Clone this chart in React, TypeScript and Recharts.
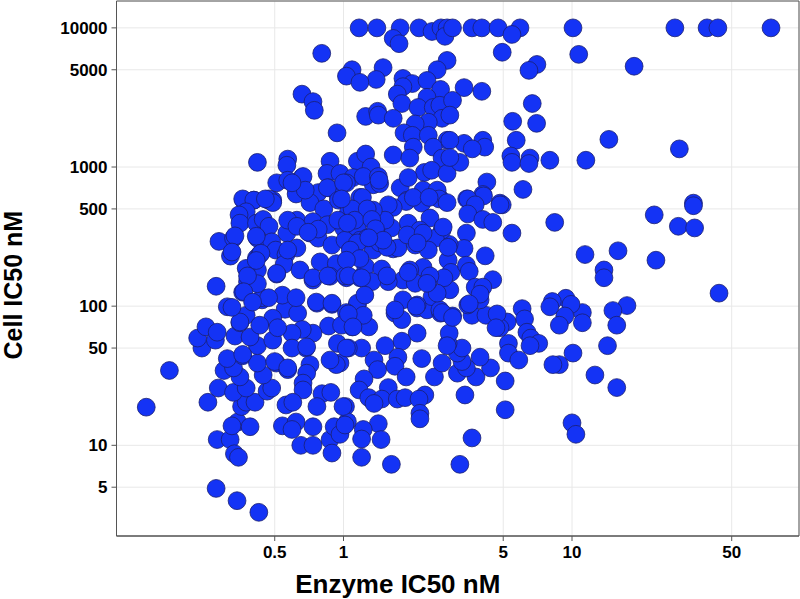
import React from "react";
import { ScatterChart, Scatter, XAxis, YAxis, CartesianGrid, ReferenceArea } from "recharts";

type P = [number, number];

const plateau: P[] = [[1.17,10000],[1.4,10000],[1.77,10000],[2.14,10000],[2.44,9420],[2.67,10000],[2.84,10000],[2.78,8700],[3,10000],[3.65,10000],[4.03,10000],[4.75,10000],[5.92,10000],[5.46,8970],[10.1,10000],[28.2,10000],[39,10000],[43.5,10000],[74.3,10000],[1.65,8400],[1.75,7700]];

const upper: P[] = [[0.803,6560],[4.95,6680],[10.7,6450],[18.7,5300],[7.02,5460],[6.48,4950],[2.84,5836],[2.57,5000],[1.49,5180],[1.39,4260],[1.09,5000],[1.03,4500],[1.18,4060],[1.82,4330],[2,3980],[1.82,3780],[1.72,3340],[2.32,4190],[2.66,3610],[2.32,3170],[1.8,2860],[2.12,2680],[2.47,2680],[2.64,2780],[2.7,2240],[2.35,2100],[0.658,3340],[0.735,2950],[0.745,2555],[1.25,2310],[1.41,2515],[1.42,2360],[1.65,2240],[0.937,1760],[2.06,2040],[1.84,1760],[2,1690],[2.35,1690],[2.84,1557],[2.02,1390],[2.47,1390],[1.65,1220],[1.95,1160],[2.7,1160],[2.26,915],[2.43,948],[2.84,900],[3.37,3720],[4.03,3500],[3,3014],[2.92,2360],[6.7,2860],[5.5,2130],[7,2060],[5.7,1557],[14.5,1580],[29.5,1350],[3.37,1480],[4.07,1557],[4.15,1390],[3.66,1350],[2.92,1557],[5.4,1200],[5.46,1080],[6.55,1160],[6.48,1060],[8,1119],[11.5,1119],[3.23,1080],[2.92,1170]];

const shoulder: P[] = [[0.42,1080],[0.57,1140],[0.565,1030],[0.873,1100],[1.15,1100],[1.25,1240],[1.32,1000],[0.847,900],[0.965,900],[1.1,840],[0.51,770],[0.658,840],[0.57,804],[0.625,655],[0.68,665],[0.775,655],[0.858,710],[1.03,770],[1.35,745],[1.44,760],[1.22,855],[1.42,855],[1.77,710],[1.92,840],[1.18,605],[0.365,578],[0.405,578],[0.47,578],[0.49,578],[0.95,605],[1.9,578],[2.23,650],[2.52,620],[2.62,605],[4.24,780],[6.1,690],[4.07,635],[3.46,590],[4.84,550],[34,550]];

const farRight: P[] = [[4.95,535],[8.4,400],[5.46,335],[22.9,453],[34,527],[29.2,375],[34.4,365],[23.3,214],[15.9,250],[11.4,235],[13.8,182],[13.8,160],[44,124],[17.4,101],[15.1,93],[11.1,90],[15.7,73],[11.1,76],[9.4,114],[9.9,103],[9.3,85],[8.8,73],[8.2,108],[8,99],[14.3,52],[10.1,46],[8.8,38],[8.25,38],[12.6,32],[15.7,26],[10,14.5],[10.4,12],[6.05,96],[6.2,81],[5.2,77],[6.35,65],[6.6,59],[7.15,54],[6.55,52],[5.27,54],[5.27,46],[5.85,41],[5.1,29],[5.1,18],[4.84,70]];

const lowerMiddle: P[] = [[3.65,11.3],[3.23,7.3],[3.4,23],[3.8,31],[4.4,36],[3.96,43],[2.5,31],[3.15,33],[3.45,36],[2.7,39],[3.3,40],[3.15,46],[3.3,50],[2.87,54],[2.9,64],[2.2,42],[2.1,64],[1.8,56],[1.52,52],[1.36,41],[1.41,35],[1.73,43],[1.68,37],[1.88,31],[1.57,26],[1.23,30],[1.17,25],[1.29,22],[1.47,21.5],[1.36,20],[1.72,21.5],[1.86,22],[2.27,23],[2.14,21.5],[2.16,17],[2.16,15.5],[1.42,14.3],[1.22,13],[1.2,11.1],[1.46,11],[1.2,8.2],[1.62,7.3],[1.02,19],[1.04,14.8],[0.965,12.5],[1.68,89],[1.8,80],[2.1,97],[2.32,94],[2.66,89],[3,85],[3.65,86],[4.2,86],[4.7,88],[4.65,70],[3.5,102],[3.96,111],[1.15,102],[1.09,71],[1.29,71],[1.2,50],[1.05,50],[0.965,39]];

const lowerLeft: P[] = [[0.173,34.5],[0.137,18.8],[0.277,4.9],[0.342,4],[0.426,3.3],[0.28,11],[0.319,11],[0.333,8.7],[0.347,8.2],[0.344,14.7],[0.39,13.6],[0.325,13.8],[0.255,20.4],[0.283,25.8],[0.358,19],[0.375,20.4],[0.41,20.4],[0.33,24],[0.375,25.8],[0.463,24.5],[0.485,25.8],[0.445,32],[0.352,31],[0.3,34.5],[0.33,36],[0.362,44],[0.31,42],[0.42,39],[0.508,39],[0.57,35],[0.42,52],[0.49,57],[0.335,61],[0.39,60],[0.352,76],[0.24,50],[0.23,59],[0.25,71],[0.275,57],[0.28,65],[0.31,99],[0.375,86],[0.44,111],[0.555,95],[0.63,89],[0.765,105],[0.89,103],[0.86,72],[0.735,64],[0.66,68],[0.595,64],[0.685,50],[0.595,50],[0.94,54],[1.03,50],[0.713,38],[0.69,33],[0.93,38],[0.873,41],[0.665,28],[0.665,25],[0.805,23.5],[0.88,24],[0.56,19.5],[0.6,20.4],[0.765,19],[0.995,19],[0.54,13.8],[0.62,14.7],[0.595,13],[0.735,13.6],[0.65,10],[0.735,10],[0.873,11],[0.91,13.6],[0.965,12],[0.89,8.8],[1.015,14]];

const denseLeft: P[] = [[0.277,139],[0.285,292],[0.32,229],[0.33,308],[0.362,590],[0.405,578],[0.375,477],[0.349,453],[0.352,395],[0.472,590],[0.49,555],[0.416,395],[0.445,420],[0.472,375],[0.42,308],[0.565,335],[0.485,290],[0.505,253],[0.416,222],[0.43,235],[0.625,262],[0.56,235],[0.55,200],[0.42,182],[0.375,187],[0.51,170],[0.645,182],[0.38,150],[0.362,126],[0.44,115],[0.42,145],[0.54,120],[0.62,115],[0.735,154],[0.79,208],[0.93,202],[0.873,164],[1.03,160],[0.76,107],[0.89,105],[0.665,855],[0.85,710],[1,770],[0.62,640],[0.713,555],[0.82,500],[0.95,578],[0.625,415],[0.57,415],[0.735,405],[0.85,385],[0.625,375],[0.713,335],[0.775,308],[0.89,275],[1,365],[1.07,298],[1.05,470]];

const denseRight: P[] = [[4.1,620],[3.5,590],[3.77,535],[4.84,535],[3.5,460],[4.07,420],[4.5,400],[4.17,230],[3.45,335],[3.37,260],[2.87,214],[2.9,278],[2.95,175],[3.45,197],[3.55,178],[4.5,155],[3.77,137],[4.07,137],[3.96,122],[3.55,104],[2.92,131],[2.75,160],[2.44,117],[2.64,94],[2.57,124],[2.35,150],[2.23,190],[1.95,182],[1.82,154],[2.06,146],[1.82,111],[2.1,102],[1.68,94],[2.23,682],[2.57,682],[2.62,590],[2.84,555],[1.88,565],[2.2,550],[1.65,513],[1.57,535],[2.02,605],[2.39,430],[1.92,395],[2.16,352],[2.7,352],[2.23,290],[2.27,278],[2.06,275],[2.52,308],[2.35,253],[1.62,365],[1.39,365],[1.52,415],[1.15,358],[1.18,298],[1.35,253],[1.65,258],[1.73,262],[1.44,285],[1.27,310],[1.1,245],[1.25,192],[1.47,185],[1.57,150],[1.18,160],[1.33,150],[1.15,105],[1.24,120],[1.21,605],[1.43,804],[1.09,500],[1.35,490],[1.05,285],[1.55,265],[0.98,590]];

const coreUpperLeft: P[] = [[0.455,590],[0.775,358],[0.7,340],[0.945,415],[1.015,298],[0.335,320],[0.325,245],[0.415,318],[0.435,240],[0.415,213],[0.57,253],[0.51,172],[0.38,165],[0.735,160],[0.855,165],[1.015,165],[0.68,682],[0.595,770]];

const coreUpperRight: P[] = [[2.37,605],[1.27,500],[1.12,415],[1.33,420],[1.38,360],[1.04,395],[2.73,370],[1.9,325],[2.23,335],[2.1,285],[1.49,298],[1.15,285],[1.29,310],[1.07,253],[1.18,220],[1.03,214],[2.87,265],[1.05,165],[1.92,175],[1.55,165],[2.39,165]];

const coreLower: P[] = [[0.366,127],[0.47,115],[0.4,107],[1.03,90],[0.49,82],[0.352,77],[0.43,73],[0.515,70],[0.98,73],[0.69,51],[0.362,45],[0.5,40],[0.57,36],[0.325,98],[1.2,160],[2.32,146],[2.08,100],[2.7,90],[3,83],[1.22,86],[1.05,88],[1.1,71],[2.84,52]];

const groups: P[][] = [plateau, upper, shoulder, farRight, lowerMiddle, lowerLeft, denseLeft, denseRight, coreUpperLeft, coreUpperRight, coreLower];
const points = groups.flat().map(([enzyme, cell]) => ({ enzyme, cell }));

const xTicks = [0.5, 1, 5, 10, 50];
const yTicks = [5, 10, 50, 100, 500, 1000, 5000, 10000];
const xDomain: [number, number] = [0.1015, 98.5];
const yDomain: [number, number] = [2.23, 15600];

const Dot = (p: any) => (
  <circle cx={p.cx} cy={p.cy} r={8.9} fill="#1433F5" stroke="#1a2070" strokeWidth={0.8} />
);

const tickStyle = { fontFamily: "Liberation Sans", fontWeight: 700, fontSize: 17, fill: "#000" };
const labelStyle = { fontFamily: "Liberation Sans", fontWeight: 700, fill: "#000" };

export default function App() {
  return (
    <div style={{ position: "absolute", left: 0, top: 0, width: 800, height: 599, background: "#fff" }}>
      <ScatterChart width={800} height={599} margin={{ top: 1, right: 1, bottom: 0, left: 0 }}>
        <CartesianGrid stroke="#e8e8e8" strokeWidth={1} />
        <XAxis
          type="number"
          dataKey="enzyme"
          scale="log"
          domain={xDomain}
          ticks={xTicks}
          allowDataOverflow
          height={63}
          tick={tickStyle}
          tickSize={5}
          tickMargin={5}
          tickFormatter={(v: number) => String(v)}
          stroke="#555"
          interval={0}
          label={{ value: "Enzyme IC50 nM", position: "insideBottom", offset: 6, dx: -60, style: { ...labelStyle, fontSize: 26 } }}
        />
        <YAxis
          type="number"
          dataKey="cell"
          scale="log"
          domain={yDomain}
          ticks={yTicks}
          allowDataOverflow
          width={116.5}
          tick={tickStyle}
          tickSize={5}
          tickMargin={4}
          tickFormatter={(v: number) => String(v)}
          stroke="#555"
          interval={0}
          label={{ value: "Cell IC50 nM", angle: -90, position: "insideLeft", offset: 13, dy: 91, style: { ...labelStyle, fontSize: 25 } }}
        />
        <ReferenceArea x1={xDomain[0]} x2={xDomain[1]} y1={yDomain[0]} y2={yDomain[1]} fill="none" stroke="#555" strokeWidth={1} ifOverflow="visible" />
        <Scatter data={points} shape={Dot} isAnimationActive={false} />
      </ScatterChart>
    </div>
  );
}
